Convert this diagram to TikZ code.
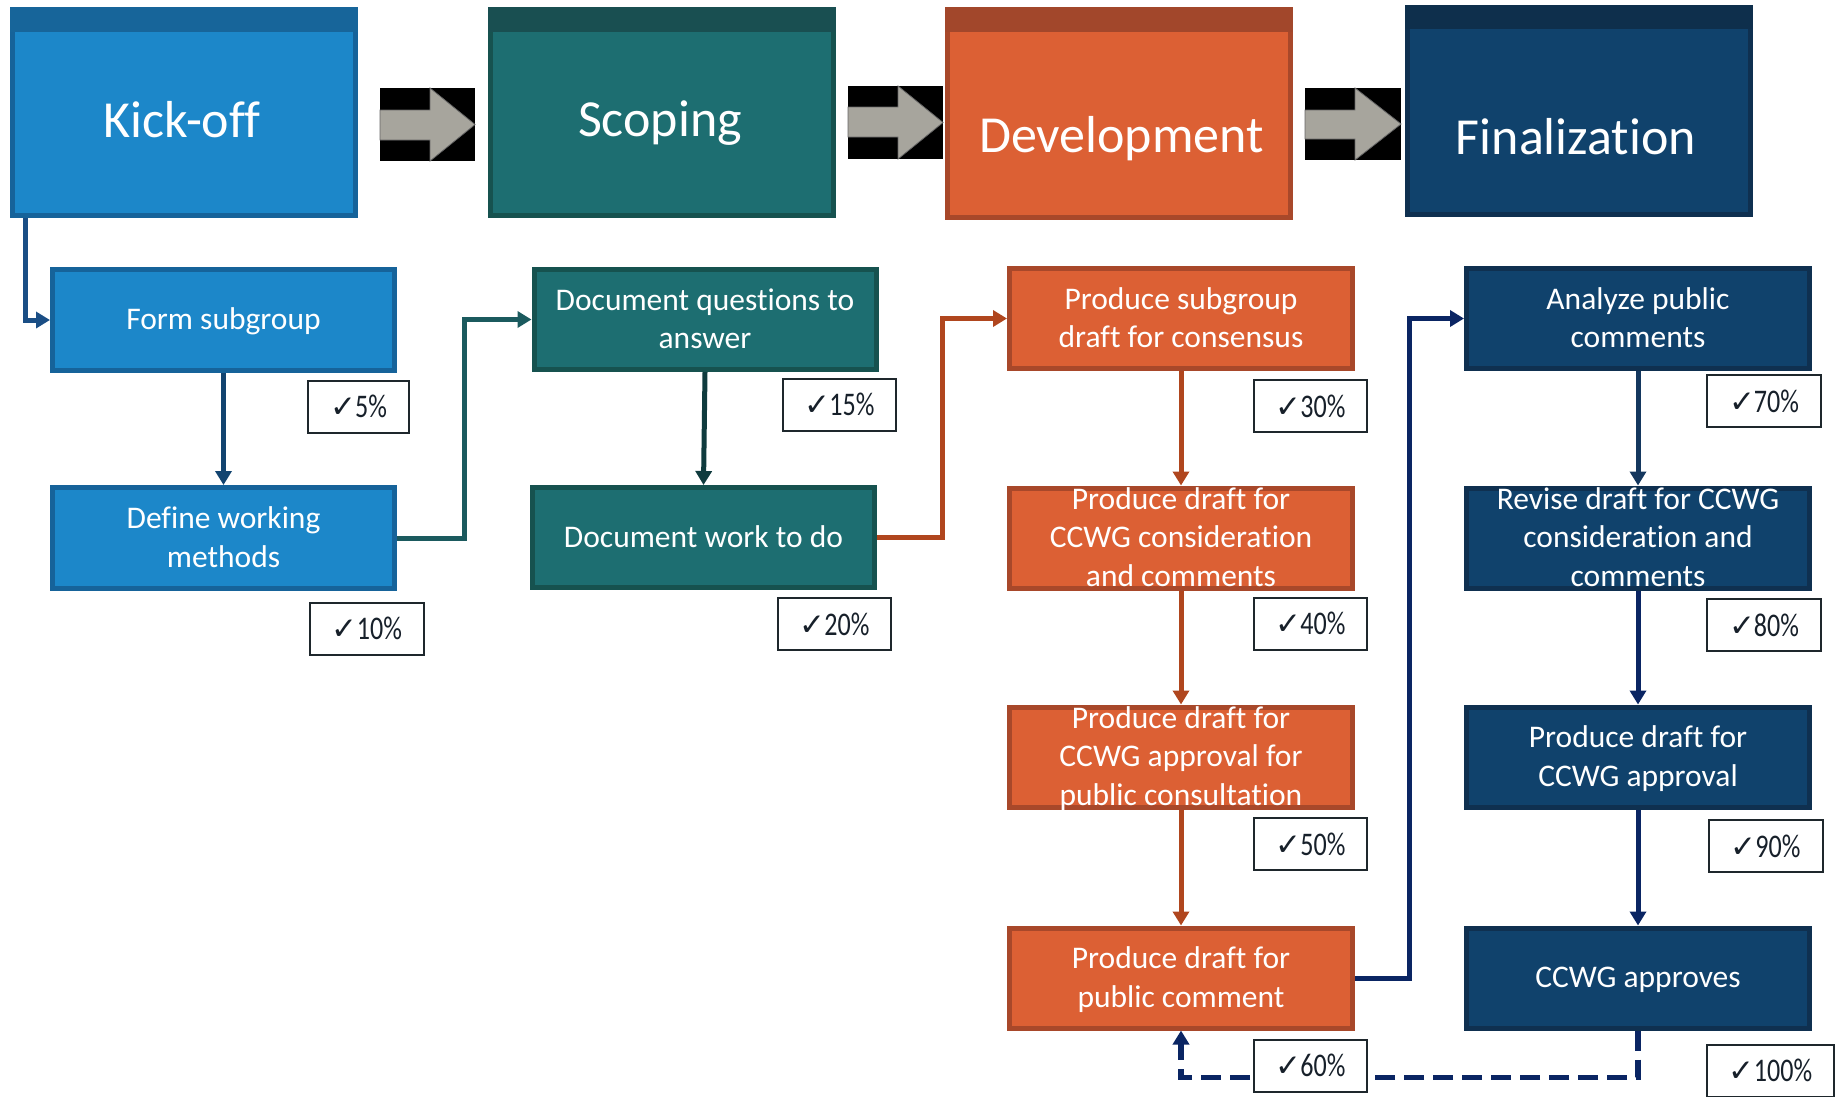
\documentclass[tikz,border=0pt]{standalone}
\usepackage{fontspec}
\usepackage{graphicx}
\setmainfont{Carlito}[Ligatures=NoCommon]
\newfontfamily\djv{DejaVu Sans}
\usetikzlibrary{arrows.meta,calc}
\definecolor{kfill}{HTML}{1C87C9}
\definecolor{kband}{HTML}{17659A}
\definecolor{kbord}{HTML}{16639A}
\definecolor{sfill}{HTML}{1D6E71}
\definecolor{sband}{HTML}{194F51}
\definecolor{sbord}{HTML}{16524F}
\definecolor{dfill}{HTML}{DC6034}
\definecolor{dband}{HTML}{A2472B}
\definecolor{dbord}{HTML}{A8482A}
\definecolor{ffill}{HTML}{10426C}
\definecolor{fband}{HTML}{0E2F4C}
\definecolor{fbord}{HTML}{0F3050}
\definecolor{arrgray}{HTML}{A7A59D}
\definecolor{lnA}{HTML}{1A4E85}
\definecolor{lnB}{HTML}{124470}
\definecolor{lnC}{HTML}{1B5A5E}
\definecolor{lnD}{HTML}{0F3B3E}
\definecolor{lnE}{HTML}{B0461E}
\definecolor{lnF}{HTML}{0A2563}
\definecolor{lnG}{HTML}{14375E}
\definecolor{ckline}{HTML}{1E272C}
\definecolor{cktext}{HTML}{17202A}
\newcommand{\ls}{\rule[-9.5pt]{0pt}{38.5pt}}
\newcommand{\ck}[1]{{\djv\fontsize{31}{31}\selectfont ✓}\hspace{-1pt}\scalebox{0.79}[1]{#1}}
\tikzset{
  hdr/.style={draw, line width=5pt, minimum width=343pt, minimum height=206pt, inner sep=0pt},
  hdrtxt/.style={text=white, font=\fontsize{52}{62}\selectfont, anchor=base, inner sep=0pt},
  subbox/.style={draw, line width=5pt, minimum width=342pt, minimum height=100pt, inner sep=0pt},
  subtxt/.style={text=white, font=\fontsize{31.5}{38.5}\selectfont, align=center, inner sep=0pt},
  ckbox/.style={draw=ckline, fill=white, line width=2pt, inner sep=0pt, minimum height=52pt, minimum width=113pt, text=cktext, font=\fontsize{33}{40}\selectfont},
  conn/.style={line width=5pt, -{Triangle[length=14pt,width=16pt]}},
  bigarrow/.style={fill=arrgray, draw=black!60, line width=0.8pt}
}
\begin{document}
\begin{tikzpicture}[x=1pt,y=-1pt]
\useasboundingbox (0,0) rectangle (1839,1096);

% header boxes
\node[hdr, fill=kfill, draw=kbord] (kick) at (184,112.5) {};
\fill[kband] (kick.north west) rectangle ([yshift=-25pt]kick.north east);
\node[hdr, fill=sfill, draw=sbord] (scop) at (662,112.5) {};
\fill[sband] (scop.north west) rectangle ([yshift=-25pt]scop.north east);
\node[hdr, fill=dfill, draw=dbord, minimum height=208pt] (devl) at (1119,113.5) {};
\fill[dband] (devl.north west) rectangle ([yshift=-25pt]devl.north east);
\node[hdr, fill=ffill, draw=fbord, minimum height=207pt] (finl) at (1578.5,111) {};
\fill[fband] (finl.north west) rectangle ([yshift=-24pt]finl.north east);

\node[hdrtxt] (hk) at (182,137) {Kick-off};
\node[hdrtxt] (hs) at (660,136) {Scoping};
\node[hdrtxt] (hd) at (1121.5,152) {Development};
\node[hdrtxt] (hf) at (1576,154) {Finalization};

% block arrows between headers
\fill[black] (380,88) rectangle (475,161);
\filldraw[bigarrow] (380,110) -- (430,110) -- (430,88) -- (475,124.5) -- (430,161) -- (430,140) -- (380,140) -- cycle;
\fill[black] (848,86) rectangle (943,159);
\filldraw[bigarrow] (848,107) -- (898,107) -- (898,86) -- (943,122.5) -- (898,159) -- (898,137) -- (848,137) -- cycle;
\fill[black] (1305,88) rectangle (1401,160);
\filldraw[bigarrow] (1305,110) -- (1355,110) -- (1355,88) -- (1401,124) -- (1355,160) -- (1355,139) -- (1305,139) -- cycle;

% sub boxes
\node[subbox, fill=kfill, draw=kbord, minimum height=101pt] (form) at (223.5,320) {};
\node[subbox, fill=kfill, draw=kbord, minimum height=101pt] (defn) at (223.5,538) {};
\node[subbox, fill=sfill, draw=sbord] (docq) at (705,319.5) {};
\node[subbox, fill=sfill, draw=sbord] (docw) at (703.5,537.5) {};
\node[subbox, fill=dfill, draw=dbord, minimum width=343pt] (p1) at (1181,318.5) {};
\node[subbox, fill=dfill, draw=dbord, minimum width=343pt] (p2) at (1181,538) {};
\node[subbox, fill=dfill, draw=dbord, minimum width=343pt] (p3) at (1181,757) {};
\node[subbox, fill=dfill, draw=dbord, minimum width=343pt] (p4) at (1181,978) {};
\node[subbox, fill=ffill, draw=fbord, minimum width=343pt] (a1) at (1638,318.5) {};
\node[subbox, fill=ffill, draw=fbord, minimum width=343pt] (a2) at (1638,538) {};
\node[subbox, fill=ffill, draw=fbord, minimum width=343pt] (a3) at (1638,757) {};
\node[subbox, fill=ffill, draw=fbord, minimum width=343pt] (a4) at (1638,978) {};

% connectors
\draw[conn, lnA] ([xshift=15pt]kick.south west) |- (form.west);
\draw[conn, lnB] (form.south) -- (defn.north);
\draw[conn, lnC] (defn.east) -- ++(67.5,0) |- (docq.west);
\draw[conn, lnD] (docq.south) -- (docw.north);
\draw[conn, lnE] (docw.east) -- ++(65,0) |- (p1.west);
\draw[conn, lnE] (p1.south) -- (p2.north);
\draw[conn, lnE] (p2.south) -- (p3.north);
\draw[conn, lnE] (p3.south) -- (p4.north);
\draw[conn, lnF] (p4.east) -- ++(54.5,0) |- (a1.west);
\draw[conn, lnG] (a1.south) -- (a2.north);
\draw[conn, lnF] (a2.south) -- (a3.north);
\draw[conn, lnF] (a3.south) -- (a4.north);
\coordinate (dl) at ($(a4.south)+(0,47)$);
\draw[conn, lnF, line width=5.5pt, dash pattern=on 20pt off 9pt] (a4.south) -- (dl) -| (p4.south);

% sub box texts
\node[subtxt] (tform) at (form) {\ls Form subgroup};
\node[subtxt] (tdefn) at (defn) {\ls Define working\\\ls methods};
\node[subtxt] (tdocq) at (docq) {\ls Document questions to\\\ls answer};
\node[subtxt] (tdocw) at (docw) {\ls Document work to do};
\node[subtxt] (tp1) at (p1) {\ls Produce subgroup\\\ls draft for consensus};
\node[subtxt] (tp2) at (p2) {\ls Produce draft for\\\ls CCWG consideration\\\ls and comments};
\node[subtxt] (tp3) at (p3) {\ls Produce draft for\\\ls CCWG approval for\\\ls public consultation};
\node[subtxt] (tp4) at (p4) {\ls Produce draft for\\\ls public comment};
\node[subtxt] (ta1) at (a1) {\ls Analyze public\\\ls comments};
\node[subtxt] (ta2) at (a2) {\ls Revise draft for CCWG\\\ls consideration and\\\ls comments};
\node[subtxt] (ta3) at (a3) {\ls Produce draft for\\\ls CCWG approval};
\node[subtxt] (ta4) at (a4) {\ls CCWG approves};

% progress boxes
\node[ckbox, minimum width=101pt] (c5) at (358.5,406.5) {\ck{5\%}};
\node[ckbox, minimum width=114pt] (c10) at (367,628.5) {\ck{10\%}};
\node[ckbox] (c15) at (839.5,404.5) {\ck{15\%}};
\node[ckbox] (c20) at (834.5,624) {\ck{20\%}};
\node[ckbox] (c30) at (1310.5,406) {\ck{30\%}};
\node[ckbox] (c40) at (1310.5,623.5) {\ck{40\%}};
\node[ckbox] (c50) at (1310.5,844) {\ck{50\%}};
\node[ckbox] (c60) at (1310.5,1065.5) {\ck{60\%}};
\node[ckbox, minimum width=114pt] (c70) at (1764,401) {\ck{70\%}};
\node[ckbox, minimum width=114pt] (c80) at (1764,625) {\ck{80\%}};
\node[ckbox, minimum width=114pt] (c90) at (1765.5,846) {\ck{90\%}};
\node[ckbox, minimum width=127pt] (c100) at (1770.5,1070.5) {\ck{100\%}};
\end{tikzpicture}
\end{document}
